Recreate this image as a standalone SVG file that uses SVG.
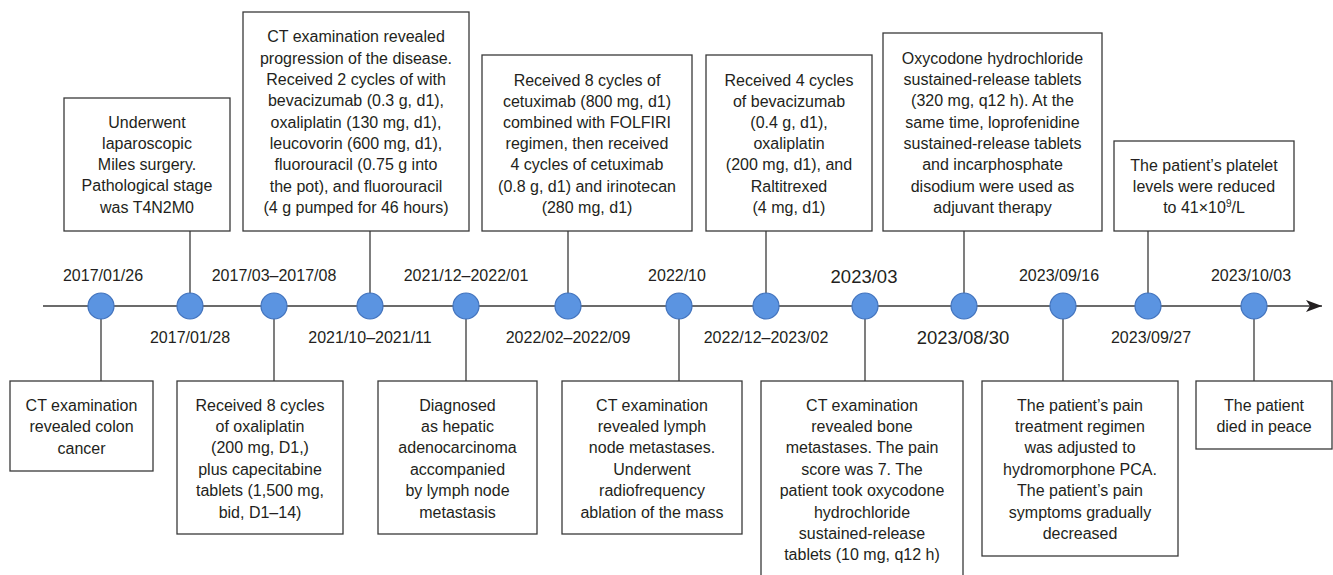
<svg xmlns="http://www.w3.org/2000/svg" width="1333" height="575" viewBox="0 0 1333 575">
<defs>
<style>
text{font-family:"Liberation Sans",Arial,Helvetica,sans-serif;font-size:16px;fill:#231f20;text-anchor:middle}
.box{fill:#fff;stroke:#3a3a3a;stroke-width:1.3}
.ln{stroke:#3a3a3a;stroke-width:1.3;fill:none}
.dot{fill:#5b94e1;stroke:#4273bd;stroke-width:1.2}
.big{font-size:18.5px}
</style>
<marker id="arr" markerWidth="18" markerHeight="14" refX="16" refY="6" orient="auto" markerUnits="userSpaceOnUse">
<path d="M0,0 L16,6 L0,12 L4,6 Z" fill="#231f20"/>
</marker>
</defs>
<rect width="1333" height="575" fill="#fff"/>
<g id="connectors">
<line class="ln" x1="43" y1="306" x2="1322" y2="306" marker-end="url(#arr)"/>
<line class="ln" x1="190" y1="231" x2="190" y2="306"/>
<line class="ln" x1="370" y1="231" x2="370" y2="306"/>
<line class="ln" x1="568" y1="231" x2="568" y2="306"/>
<line class="ln" x1="766" y1="231" x2="766" y2="306"/>
<line class="ln" x1="964" y1="231" x2="964" y2="306"/>
<line class="ln" x1="1148" y1="231" x2="1148" y2="306"/>
<line class="ln" x1="101" y1="306" x2="101" y2="381"/>
<line class="ln" x1="274" y1="306" x2="274" y2="381"/>
<line class="ln" x1="466" y1="306" x2="466" y2="381"/>
<line class="ln" x1="679" y1="306" x2="679" y2="381"/>
<line class="ln" x1="865" y1="306" x2="865" y2="381"/>
<line class="ln" x1="1063" y1="306" x2="1063" y2="381"/>
<line class="ln" x1="1254" y1="306" x2="1254" y2="381"/>
</g>
<g id="dots">
<circle class="dot" cx="101" cy="306" r="13"/>
<circle class="dot" cx="190" cy="306" r="13"/>
<circle class="dot" cx="274" cy="306" r="13"/>
<circle class="dot" cx="370" cy="306" r="13"/>
<circle class="dot" cx="466" cy="306" r="13"/>
<circle class="dot" cx="568" cy="306" r="13"/>
<circle class="dot" cx="679" cy="306" r="13"/>
<circle class="dot" cx="766" cy="306" r="13"/>
<circle class="dot" cx="865" cy="306" r="13"/>
<circle class="dot" cx="964" cy="306" r="13"/>
<circle class="dot" cx="1063" cy="306" r="13"/>
<circle class="dot" cx="1148" cy="306" r="13"/>
<circle class="dot" cx="1254" cy="306" r="13"/>
</g>
<g id="dates">
<text x="103" y="281">2017/01/26</text>
<text x="190" y="342.5">2017/01/28</text>
<text x="274" y="281">2017/03–2017/08</text>
<text x="370" y="342.5">2021/10–2021/11</text>
<text x="466" y="281">2021/12–2022/01</text>
<text x="568" y="342.5">2022/02–2022/09</text>
<text x="677" y="281">2022/10</text>
<text x="766" y="342.5">2022/12–2023/02</text>
<text class="big" x="864" y="283">2023/03</text>
<text class="big" x="963" y="344">2023/08/30</text>
<text x="1059" y="281">2023/09/16</text>
<text x="1151" y="342.5">2023/09/27</text>
<text x="1251" y="281">2023/10/03</text>
</g>
<g id="n1">
<rect class="box" x="64" y="98" width="166" height="133"/>
<text x="147" y="127.5"><tspan x="147">Underwent</tspan><tspan x="147" dy="21.3">laparoscopic</tspan><tspan x="147" dy="21.3">Miles surgery.</tspan><tspan x="147" dy="21.3">Pathological stage</tspan><tspan x="147" dy="21.3">was T4N2M0</tspan></text>
</g>
<g id="n2">
<rect class="box" x="243" y="12" width="226" height="219"/>
<text x="356" y="42.2"><tspan x="356">CT examination revealed</tspan><tspan x="356" dy="21.33">progression of the disease.</tspan><tspan x="356" dy="21.33">Received 2 cycles of with</tspan><tspan x="356" dy="21.33">bevacizumab (0.3 g, d1),</tspan><tspan x="356" dy="21.33">oxaliplatin (130 mg, d1),</tspan><tspan x="356" dy="21.33">leucovorin (600 mg, d1),</tspan><tspan x="356" dy="21.33">fluorouracil (0.75 g into</tspan><tspan x="356" dy="21.33">the pot), and fluorouracil</tspan><tspan x="356" dy="21.33">(4 g pumped for 46 hours)</tspan></text>
</g>
<g id="n3">
<rect class="box" x="482" y="55" width="210" height="176"/>
<text x="587" y="85.5"><tspan x="587">Received 8 cycles of</tspan><tspan x="587" dy="21.2">cetuximab (800 mg, d1)</tspan><tspan x="587" dy="21.2">combined with FOLFIRI</tspan><tspan x="587" dy="21.2">regimen, then received</tspan><tspan x="587" dy="21.2">4 cycles of cetuximab</tspan><tspan x="587" dy="21.2">(0.8 g, d1) and irinotecan</tspan><tspan x="587" dy="21.2">(280 mg, d1)</tspan></text>
</g>
<g id="n4">
<rect class="box" x="706" y="55" width="166" height="176"/>
<text x="789" y="85.5"><tspan x="789">Received 4 cycles</tspan><tspan x="789" dy="21.2">of bevacizumab</tspan><tspan x="789" dy="21.2">(0.4 g, d1),</tspan><tspan x="789" dy="21.2">oxaliplatin</tspan><tspan x="789" dy="21.2">(200 mg, d1), and</tspan><tspan x="789" dy="21.2">Raltitrexed</tspan><tspan x="789" dy="21.2">(4 mg, d1)</tspan></text>
</g>
<g id="n5">
<rect class="box" x="883" y="33" width="219" height="198"/>
<text x="992.5" y="63.8"><tspan x="992.5">Oxycodone hydrochloride</tspan><tspan x="992.5" dy="21.3">sustained-release tablets</tspan><tspan x="992.5" dy="21.3">(320 mg, q12 h). At the</tspan><tspan x="992.5" dy="21.3">same time, loprofenidine</tspan><tspan x="992.5" dy="21.3">sustained-release tablets</tspan><tspan x="992.5" dy="21.3">and incarphosphate</tspan><tspan x="992.5" dy="21.3">disodium were used as</tspan><tspan x="992.5" dy="21.3">adjuvant therapy</tspan></text>
</g>
<g id="n6">
<rect class="box" x="1114" y="141" width="180" height="90"/>
<text x="1204" y="170.5"><tspan x="1204">The patient’s platelet</tspan><tspan x="1204" dy="21.2">levels were reduced</tspan><tspan x="1204" dy="21.2">to 41×10<tspan font-size="10" dy="-6">9</tspan><tspan dy="6">/L</tspan></tspan></text>
</g>
<g id="n7">
<rect class="box" x="10" y="381" width="143" height="90"/>
<text x="81.5" y="410.5"><tspan x="81.5">CT examination</tspan><tspan x="81.5" dy="21.5">revealed colon</tspan><tspan x="81.5" dy="21.5">cancer</tspan></text>
</g>
<g id="n8">
<rect class="box" x="177" y="381" width="166" height="153"/>
<text x="260" y="410.5"><tspan x="260">Received 8 cycles</tspan><tspan x="260" dy="21.4">of oxaliplatin</tspan><tspan x="260" dy="21.4">(200 mg, D1,)</tspan><tspan x="260" dy="21.4">plus capecitabine</tspan><tspan x="260" dy="21.4">tablets (1,500 mg,</tspan><tspan x="260" dy="21.4">bid, D1–14)</tspan></text>
</g>
<g id="n9">
<rect class="box" x="378" y="381" width="159" height="153"/>
<text x="457.5" y="410.5"><tspan x="457.5">Diagnosed</tspan><tspan x="457.5" dy="21.4">as hepatic</tspan><tspan x="457.5" dy="21.4">adenocarcinoma</tspan><tspan x="457.5" dy="21.4">accompanied</tspan><tspan x="457.5" dy="21.4">by lymph node</tspan><tspan x="457.5" dy="21.4">metastasis</tspan></text>
</g>
<g id="n10">
<rect class="box" x="562" y="381" width="180" height="153"/>
<text x="652" y="410.5"><tspan x="652">CT examination</tspan><tspan x="652" dy="21.4">revealed lymph</tspan><tspan x="652" dy="21.4">node metastases.</tspan><tspan x="652" dy="21.4">Underwent</tspan><tspan x="652" dy="21.4">radiofrequency</tspan><tspan x="652" dy="21.4">ablation of the mass</tspan></text>
</g>
<g id="n11">
<rect class="box" x="761" y="381" width="202" height="210"/>
<text x="862" y="410.5"><tspan x="862">CT examination</tspan><tspan x="862" dy="21.4">revealed bone</tspan><tspan x="862" dy="21.4">metastases. The pain</tspan><tspan x="862" dy="21.4">score was 7. The</tspan><tspan x="862" dy="21.4">patient took oxycodone</tspan><tspan x="862" dy="21.4">hydrochloride</tspan><tspan x="862" dy="21.4">sustained-release</tspan><tspan x="862" dy="21.4">tablets (10 mg, q12 h)</tspan></text>
</g>
<g id="n12">
<rect class="box" x="982" y="381" width="196" height="175"/>
<text x="1080" y="410.5"><tspan x="1080">The patient’s pain</tspan><tspan x="1080" dy="21.4">treatment regimen</tspan><tspan x="1080" dy="21.4">was adjusted to</tspan><tspan x="1080" dy="21.4">hydromorphone PCA.</tspan><tspan x="1080" dy="21.4">The patient’s pain</tspan><tspan x="1080" dy="21.4">symptoms gradually</tspan><tspan x="1080" dy="21.4">decreased</tspan></text>
</g>
<g id="n13">
<rect class="box" x="1196" y="381" width="136" height="68"/>
<text x="1264" y="410.5"><tspan x="1264">The patient</tspan><tspan x="1264" dy="21.5">died in peace</tspan></text>
</g>
</svg>
